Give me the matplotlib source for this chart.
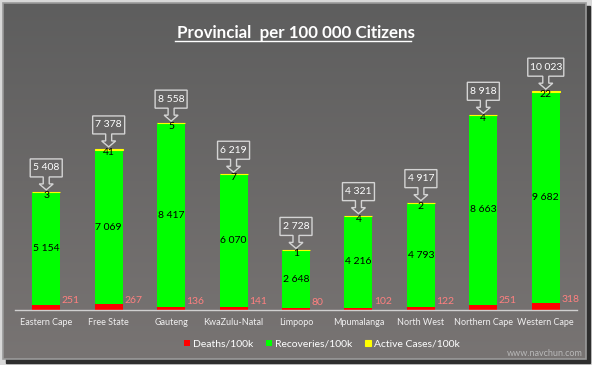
import matplotlib.pyplot as plt
import matplotlib.transforms as mtransforms
import numpy as np
from matplotlib.colors import LinearSegmentedColormap
from matplotlib.patches import Rectangle, Polygon

provinces = ["Eastern Cape", "Free State", "Gauteng", "KwaZulu-Natal", "Limpopo",
             "Mpumalanga", "North West", "Northern Cape", "Western Cape"]
deaths = [251, 267, 136, 141, 80, 102, 122, 251, 318]
recoveries = [5154, 7069, 8417, 6070, 2648, 4216, 4793, 8663, 9682]
active = [3, 41, 5, 7, 1, 4, 2, 4, 22]
totals = [5408, 7378, 8558, 6219, 2728, 4321, 4917, 8918, 10023]


def fmt(v):
    return f"{v:,}".replace(",", " ")


plt.rcParams['font.family'] = ['Lato', 'DejaVu Sans']

fig = plt.figure(figsize=(5.92, 3.65), dpi=100)
fig.patch.set_facecolor("#d8d8d8")

# background panel: shadow + vertical gradient + light frame
bg = fig.add_axes([0, 0, 1, 1], zorder=0)
bg.axis("off")
bg.add_patch(Rectangle((6, 6), 584, 357, color="#2e2e2e"))
grad = np.linspace(0, 1, 256).reshape(-1, 1)
cmap = LinearSegmentedColormap.from_list("g", ["#5e5e5e", "#787473"])
bg.imshow(grad, extent=(3, 586, 359, 3), cmap=cmap, aspect="auto", zorder=1)
bg.add_patch(Rectangle((3, 3), 583, 356, fill=False, ec="#9a9a9a", lw=1.2, zorder=2))
bg.set_xlim(0, 592)
bg.set_ylim(365, 0)

ax = fig.add_axes([15 / 592, 55 / 365, 562 / 592, 262 / 365], zorder=1)
ax.patch.set_alpha(0)
x = np.arange(len(provinces))
w = 0.45
d = np.array(deaths)
r = np.array(recoveries)
a = np.array(active)
ax.bar(x, d, w, color="#ff0000", label="Deaths/100k")
ax.bar(x, r, w, bottom=d, color="#00ff00", label="Recoveries/100k")
ax.bar(x, a, w, bottom=d + r, color="#ffff00", ec="#ffff00", lw=0.8, label="Active Cases/100k")
ax.set_xlim(-0.5, len(provinces) - 0.5)
ax.set_ylim(0, 12000)

for s in ["top", "right", "left"]:
    ax.spines[s].set_visible(False)
ax.spines["bottom"].set_color("#d0d0d0")
ax.spines["bottom"].set_linewidth(1)
ax.set_yticks([])
ax.set_xticks(x)
ax.set_xticklabels(provinces, color="#f0f0f0", fontsize=6.5)
ax.tick_params(axis="x", length=0, pad=6)

for i in range(len(provinces)):
    ax.annotate(fmt(deaths[i]), (x[i] + w / 2, deaths[i] / 2), xytext=(1, 5),
                textcoords="offset points", color="#ff8080", fontsize=7.5,
                va="center", ha="left")
    ax.text(x[i], deaths[i] + recoveries[i] / 2, fmt(recoveries[i]), color="black",
            fontsize=7.5, ha="center", va="center")
    top = deaths[i] + recoveries[i] + active[i]
    ax.annotate(fmt(active[i]), (x[i], top), xytext=(0, -2.5),
                textcoords="offset points", color="black", fontsize=7.5,
                ha="center", va="center")
    # callout box with arrow, outline in pixels around the bar top
    lbl = fmt(totals[i])
    hw = 2 * len(lbl) + 6
    verts = [(-hw, 33), (hw, 33), (hw, 15), (3, 15), (3, 8), (7, 8), (0, 2),
             (-7, 8), (-3, 8), (-3, 15), (-hw, 15)]
    tr = mtransforms.ScaledTranslation(x[i], top, ax.transData)
    fig.add_artist(Polygon(verts, closed=True, fill=False, ec="#d4d4d4", lw=1,
                           transform=tr))
    ax.annotate(lbl, (x[i], top), xytext=(0, 24 * 0.72),
                textcoords="offset points", color="white", fontsize=7.5,
                ha="center", va="center")

ax.legend(loc="center", bbox_to_anchor=((322 - 15) / 562, -0.13), ncol=3, frameon=False,
          fontsize=7.5, handlelength=0.6, handleheight=0.6, handletextpad=0.3,
          columnspacing=1.2, labelcolor="white")

fig.text(0.5, 1 - 33 / 365, "Provincial  per 100 000 Citizens", ha="center", va="center",
         color="white", fontsize=12.2, fontweight="bold")
fig.add_artist(plt.Line2D([175 / 592, 411 / 592], [1 - 41 / 365] * 2, color="white", lw=1))
fig.text(545 / 592, 1 - 353 / 365, "www.navchun.com", ha="center", va="center",
         color="#b8b8b8", fontsize=6.5)

fig.savefig("out.png", dpi=100)
